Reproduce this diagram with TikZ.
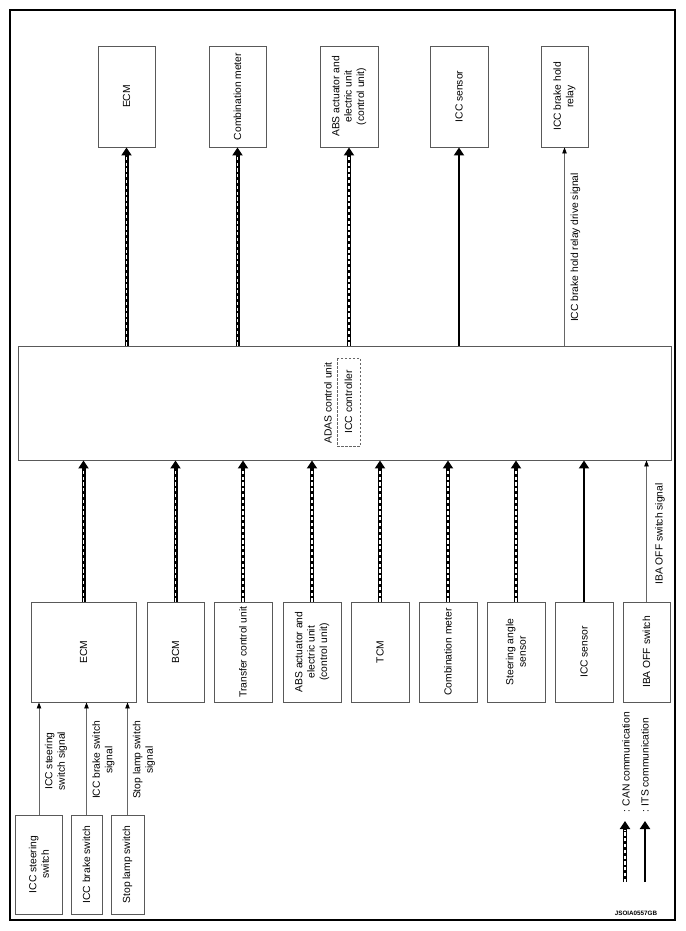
\documentclass[tikz,border=0pt]{standalone}
\usepackage{fontspec}
\setmainfont{Liberation Sans}
\usetikzlibrary{arrows.meta}

\begin{document}
\begin{tikzpicture}[x=1pt, y=-1pt,
  every node/.style={font=\fontsize{10.3}{12.4}\selectfont},
  box/.style={draw=black!65, line width=0.9pt, rotate=90, align=center, inner sep=1pt},
  topbox/.style={box, minimum width=101pt, minimum height=57pt},
  botbox/.style={box, minimum width=100pt, minimum height=58pt},
  swbox/.style={box, minimum width=99pt},
  lbl/.style={rotate=90, align=center, inner sep=0pt},
  can/.style={line width=4pt, -{Triangle[length=8pt, width=10pt]},
    postaction={draw=white, line width=1.3pt, dash pattern=on 3.2pt off 2.6pt, shorten >=8.5pt, -}},
  its/.style={line width=2.4pt, -{Triangle[length=8pt, width=10pt]}},
  sig/.style={draw=black!60, line width=0.8pt, -{Triangle[length=6pt, width=4.5pt, color=black]}}]
  \useasboundingbox (0,0) rectangle (685,931);
  \draw[line width=2pt] (10,10) rectangle (675,920);

  \node[topbox] (tECM) at (126.5,96.5) {ECM};
  \node[topbox] (tMeter) at (237.5,96.5) {Combination meter};
  \node[topbox, minimum height=58pt] (tABS) at (349,96.5) {ABS actuator and\\electric unit\\(control unit)};
  \node[topbox, minimum height=58pt] (tSensor) at (459,96.5) {ICC sensor};
  \node[topbox, minimum height=47pt] (tRelay) at (564.5,96.5) {ICC brake hold\\relay};

  \node[draw=black!65, line width=0.9pt, minimum width=653pt, minimum height=114pt, inner sep=0pt] (adas) at (344.5,403) {};
  \node[lbl] (adasTxt) at (328,403) {ADAS control unit};
  \node[lbl, draw=black!60, line width=0.8pt, dash pattern=on 2.5pt off 1.5pt, minimum width=88pt, minimum height=23pt] (iccCtrl) at (348.5,402) {ICC controller};

  \node[botbox, minimum height=105pt] (bECM) at (83.5,652) {ECM};
  \node[botbox, minimum height=57pt] (bBCM) at (175.5,652) {BCM};
  \node[botbox] (bTrans) at (243,652) {Transfer control unit};
  \node[botbox] (bABS) at (312,652) {ABS actuator and\\electric unit\\(control unit)};
  \node[botbox] (bTCM) at (380,652) {TCM};
  \node[botbox] (bMeter) at (448,652) {Combination meter};
  \node[botbox] (bSteer) at (516,652) {Steering angle\\sensor};
  \node[botbox] (bSensor) at (584,652) {ICC sensor};
  \node[botbox, minimum height=47pt] (bIBA) at (646.5,652) {IBA OFF switch};

  \node[swbox, minimum height=47pt] (sSteer) at (39,864.5) {ICC steering\\switch};
  \node[swbox, minimum height=31pt] (sBrake) at (86.5,864.5) {ICC brake switch};
  \node[swbox, minimum height=33pt] (sStop) at (127.5,864.5) {Stop lamp switch};

  \foreach \b in {tECM,tMeter,tABS}
    \draw[can] (adas.north -| \b) -- (\b.west);
  \draw[its] (adas.north -| tSensor) -- (tSensor.west);
  \draw[sig] (adas.north -| tRelay) -- (tRelay.west);

  \foreach \b in {bECM,bBCM,bTrans,bABS,bTCM,bMeter,bSteer}
    \draw[can] (\b.east) -- (\b.east |- adas.south);
  \draw[its] (bSensor.east) -- (bSensor.east |- adas.south);
  \draw[sig] (bIBA.east) -- (bIBA.east |- adas.south);

  \foreach \s in {sSteer,sBrake,sStop}
    \draw[sig] (\s.east) -- (\s.east |- bECM.west);

  \node[lbl] (relaySig) at (575.5,247.5) {ICC brake hold relay drive signal};
  \node[lbl] (ibaSig) at (660,534) {IBA OFF switch signal};
  \node[lbl] (steerSig) at (56,761) {ICC steering\\switch signal};
  \node[lbl] (brakeSig) at (103.5,760) {ICC brake switch\\signal};
  \node[lbl] (stopSig) at (144,760) {Stop lamp switch\\signal};

  \coordinate (canS) at (625,882);
  \coordinate (canE) at (625,821);
  \coordinate (itsS) at (645,882);
  \coordinate (itsE) at (645,821);
  \draw[can] (canS) -- (canE);
  \draw[its] (itsS) -- (itsE);
  \node[lbl, anchor=west] (canTxt) at (626,813) {: CAN communication};
  \node[lbl, anchor=west] (itsTxt) at (645,813) {: ITS communication};

  \node[font=\fontsize{6.3}{7}\selectfont\bfseries] (code) at (636,913) {JSOIA0557GB};
\end{tikzpicture}
\end{document}
